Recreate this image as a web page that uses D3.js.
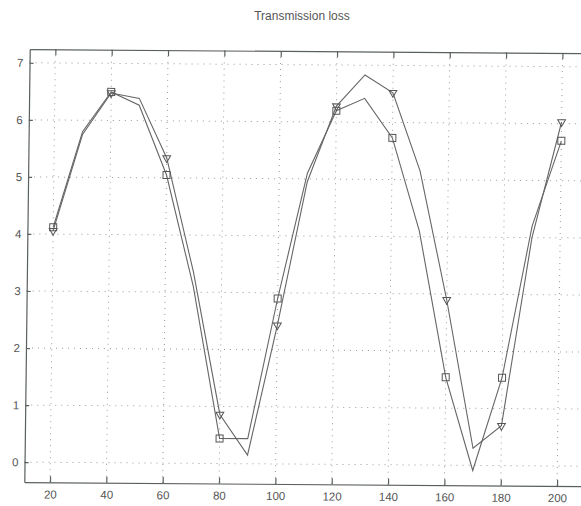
<!DOCTYPE html>
<html><head><meta charset="utf-8">
<script src="https://cdn.jsdelivr.net/npm/d3@7"></script>
<style>body{margin:0;background:#fff;}svg{display:block;}</style>
</head><body>
<script>
const title = "Transmission loss";
const xValues = [20,30,40,50,60,70,80,90,100,110,120,130,140,150,160,170,180,190,200];
const squareSeries = [4.12,5.8,6.5,6.27,5.05,3.1,0.44,0.44,2.9,5.1,6.2,6.42,5.73,4.1,1.54,-0.09,1.54,4.2,5.7];
const triangleSeries = [4.06,5.75,6.48,6.39,5.35,3.35,0.86,0.15,2.43,4.95,6.28,6.83,6.52,5.15,2.9,0.3,0.7,4.0,6.03];
const xTicks = [20,40,60,80,100,120,140,160,180,200];
const yTicks = [0,1,2,3,4,5,6,7];

const W = 581, H = 506;
const svg = d3.select("body").append("svg").attr("width", W).attr("height", H);
const L = 27, R = 602, T = 51, B = 484;
const x = d3.scaleLinear().domain([10.88, 215.0]).range([L, R]);
const y = d3.scaleLinear().domain([-0.35, 7.24]).range([B, T]);

svg.append("text").attr("x", 302).attr("y", 20).attr("text-anchor", "middle")
  .attr("font-family", "Liberation Sans, Arial, sans-serif").attr("font-size", 12).attr("fill", "#555")
  .text(title);

// slight skew of the scanned figure
const cx = 290, cy = 268, sb = 0.0073, sc = -0.0125;
const g = svg.append("g").attr("transform", `matrix(1,${sb},${sc},1,${-sc*cy},${-sb*cx})`);
const ink = "#5a5f60";

// grid
g.append("g").selectAll("line").data(xTicks).join("line")
  .attr("x1", d => x(d)).attr("x2", d => x(d)).attr("y1", T).attr("y2", B)
  .attr("stroke", "#9a9a9a").attr("stroke-width", 1).attr("stroke-dasharray", "1,5");
g.append("g").selectAll("line").data(yTicks).join("line")
  .attr("x1", L).attr("x2", R).attr("y1", d => y(d)).attr("y2", d => y(d))
  .attr("stroke", "#9a9a9a").attr("stroke-width", 1).attr("stroke-dasharray", "1,5");

// axes
const axBottom = g.append("g").attr("transform", `translate(0,${B})`)
  .call(d3.axisBottom(x).tickValues(xTicks).tickSizeInner(-6).tickSizeOuter(0).tickPadding(8));
const axTop = g.append("g").attr("transform", `translate(0,${T})`)
  .call(d3.axisTop(x).tickValues(xTicks).tickSizeInner(-6).tickSizeOuter(0).tickFormat(""));
const axLeft = g.append("g").attr("transform", `translate(${L},0)`)
  .call(d3.axisLeft(y).tickValues(yTicks).tickSizeInner(-4).tickSizeOuter(0).tickPadding(6));
[axBottom, axTop, axLeft].forEach(a => {
  a.select(".domain").attr("stroke", ink).attr("stroke-width", 1.2);
  a.selectAll(".tick line").attr("stroke", ink).attr("stroke-width", 1.2);
  a.selectAll("text").attr("font-family", "Liberation Sans, Arial, sans-serif").attr("font-size", 11.5).attr("fill", "#555");
});

// lines
const line = d3.line().x((d, i) => x(xValues[i])).y(d => y(d));
[squareSeries, triangleSeries].forEach(s => {
  g.append("path").datum(s).attr("d", line).attr("fill", "none")
    .attr("stroke", "#666").attr("stroke-width", 1.1);
});

// markers every 20
const idx = xValues.map((v, i) => i).filter(i => xValues[i] % 20 === 0);
g.append("g").selectAll("rect").data(idx).join("rect")
  .attr("x", i => x(xValues[i]) - 3.5).attr("y", i => y(squareSeries[i]) - 3.5)
  .attr("width", 7).attr("height", 7).attr("fill", "none").attr("stroke", "#555").attr("stroke-width", 1);
const tri = d3.symbol().type(d3.symbolTriangle).size(26);
g.append("g").selectAll("path").data(idx).join("path")
  .attr("d", tri)
  .attr("transform", i => `translate(${x(xValues[i])},${y(triangleSeries[i])}) rotate(180)`)
  .attr("fill", "none").attr("stroke", "#555").attr("stroke-width", 1);
</script>
</body></html>
